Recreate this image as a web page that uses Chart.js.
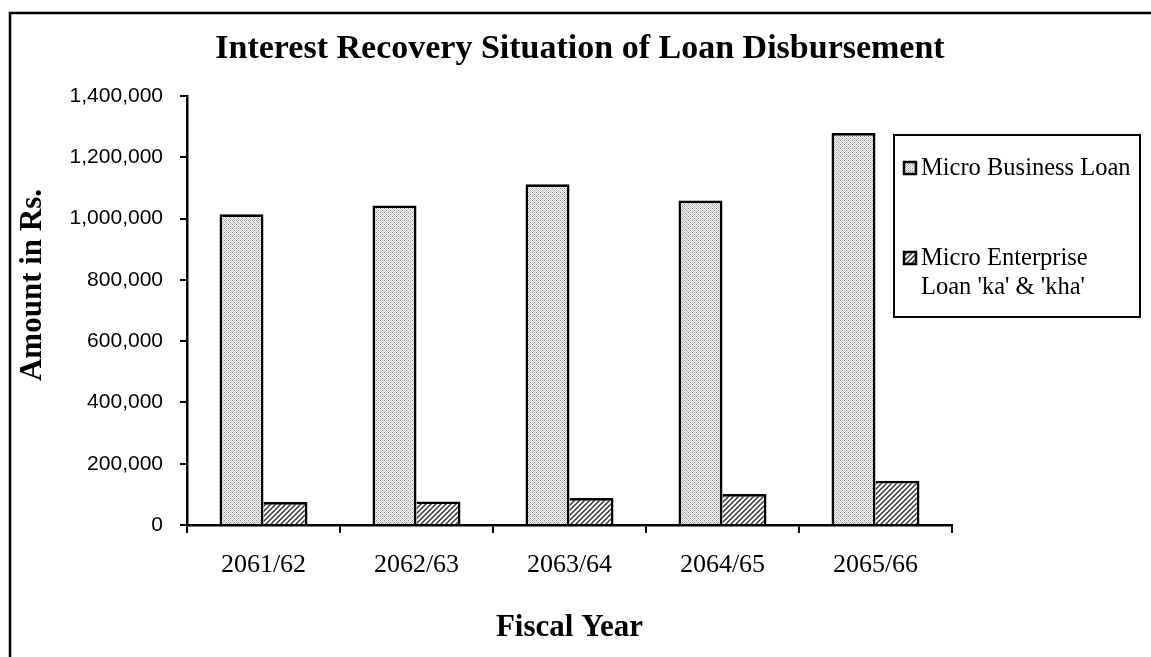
<!DOCTYPE html>
<html>
<head>
<meta charset="utf-8">
<script src="https://cdn.jsdelivr.net/npm/chart.js@4.4.1/dist/chart.umd.min.js"></script>
<style>
  html, body { margin: 0; padding: 0; background: #ffffff; }
  #wrap { width: 1151px; height: 657px; position: relative; }
</style>
</head>
<body>
<div id="wrap"><canvas id="c" width="1151" height="657"></canvas></div>
<script>
// ---- Data ----
const categories = ['2061/62', '2062/63', '2063/64', '2064/65', '2065/66'];
const microBusinessLoan = [1014000, 1043000, 1112000, 1059000, 1279000];
const microEnterpriseLoan = [75000, 77000, 88000, 101000, 144000];
const seriesLabels = ['Micro Business Loan', "Micro Enterprise\nLoan 'ka' & 'kha'"];
const chartTitle = 'Interest Recovery Situation of Loan Disbursement';
const xTitle = 'Fiscal Year';
const yTitle = 'Amount in Rs.';
const yMax = 1400000;
const yStep = 200000;

// ---- Patterns ----
function dottedPattern() {
  const c = document.createElement('canvas');
  c.width = 4; c.height = 4;
  const g = c.getContext('2d');
  g.fillStyle = '#f4f4f4'; g.fillRect(0, 0, 4, 4);
  g.fillStyle = '#c8c8c8';
  for (let y = 0; y < 4; y++) for (let x = 0; x < 4; x++) if ((x + y) % 2 === 0) g.fillRect(x, y, 1, 1);
  g.fillStyle = '#8e8e8e';
  g.fillRect(0, 0, 1, 1); g.fillRect(2, 2, 1, 1);
  return g.createPattern(c, 'repeat');
}
function hatchPattern() {
  const c = document.createElement('canvas');
  c.width = 5; c.height = 5;
  const g = c.getContext('2d');
  g.fillStyle = '#ffffff'; g.fillRect(0, 0, 5, 5);
  g.strokeStyle = '#333333'; g.lineWidth = 1.5;
  g.beginPath();
  g.moveTo(-1, 6); g.lineTo(6, -1);
  g.moveTo(-1, 1); g.lineTo(1, -1);
  g.moveTo(4, 6); g.lineTo(6, 4);
  g.stroke();
  return g.createPattern(c, 'repeat');
}
const fillA = dottedPattern();
const fillB = hatchPattern();

// ---- Plugins ----
const frame = {
  id: 'frame',
  beforeDraw(chart) {
    const ctx = chart.ctx;
    ctx.save();
    ctx.strokeStyle = '#000'; ctx.lineWidth = 2.5;
    ctx.strokeRect(10, 13, chart.width + 20, chart.height + 20);
    ctx.restore();
  }
};

const yTitlePlugin = {
  id: 'yTitlePlugin',
  afterDraw(chart) {
    const ctx = chart.ctx;
    ctx.save();
    ctx.translate(33, 285);
    ctx.rotate(-Math.PI / 2);
    ctx.font = 'bold 31px "Liberation Serif"';
    ctx.fillStyle = '#000';
    ctx.textAlign = 'center';
    ctx.textBaseline = 'middle';
    ctx.fillText(yTitle, 0, 0);
    ctx.restore();
  }
};

const boxLegend = {
  id: 'boxLegend',
  afterDraw(chart) {
    const ctx = chart.ctx;
    const ca = chart.chartArea;
    const bx = ca.right - 58, by = 135, bw = 246, bh = 182;
    ctx.save();
    ctx.fillStyle = '#fff';
    ctx.fillRect(bx, by, bw, bh);
    ctx.strokeStyle = '#000'; ctx.lineWidth = 2;
    ctx.strokeRect(bx, by, bw, bh);
    const rowsY = [168, 258];
    chart.data.datasets.forEach((ds, i) => {
      const cy = rowsY[i];
      ctx.fillStyle = ds.backgroundColor;
      ctx.fillRect(bx + 10, cy - 6, 12, 12);
      ctx.strokeStyle = '#000'; ctx.lineWidth = 2.5;
      ctx.strokeRect(bx + 10, cy - 6, 12, 12);
      ctx.fillStyle = '#000';
      ctx.font = '24.5px "Liberation Serif"';
      ctx.textAlign = 'left';
      ctx.textBaseline = 'middle';
      String(ds.label).split('\n').forEach((line, k) => {
        ctx.fillText(line, bx + 27, cy + 1 + k * 29);
      });
    });
    ctx.restore();
  }
};

// ---- Chart ----
new Chart(document.getElementById('c'), {
  type: 'bar',
  data: {
    labels: categories,
    datasets: [
      {
        label: seriesLabels[0],
        data: microBusinessLoan,
        backgroundColor: fillA,
        borderColor: '#000',
        borderWidth: { top: 2.7, left: 2.7, right: 2.7, bottom: 0 },
        categoryPercentage: 0.575,
        barPercentage: 1.0
      },
      {
        label: seriesLabels[1],
        data: microEnterpriseLoan,
        backgroundColor: fillB,
        borderColor: '#000',
        borderWidth: { top: 2.7, left: 0, right: 2.7, bottom: 0 },
        categoryPercentage: 0.575,
        barPercentage: 1.0
      }
    ]
  },
  options: {
    responsive: false,
    animation: false,
    events: [],
    layout: { padding: { left: 9, right: 0, top: 0, bottom: 0 } },
    plugins: {
      legend: { display: false },
      tooltip: { enabled: false },
      title: {
        display: true,
        text: chartTitle,
        color: '#000',
        font: { family: 'Liberation Serif', size: 34, weight: 'bold', lineHeight: 1.2 },
        padding: { top: 28.6, bottom: 26.6 }
      }
    },
    scales: {
      x: {
        afterFit(scale) { scale.height = 132; },
        grid: { display: true, drawOnChartArea: false, drawTicks: true, tickLength: 8, offset: true, color: '#000', lineWidth: 2 },
        border: { display: true, color: '#000', width: 2.5 },
        ticks: { color: '#000', padding: 17, font: { family: 'Liberation Serif', size: 26 } },
        title: {
          display: true,
          text: xTitle,
          color: '#000',
          font: { family: 'Liberation Serif', size: 31, weight: 'bold', lineHeight: 1.2 },
          padding: { top: 0, bottom: 10 }
        }
      },
      y: {
        min: 0,
        max: yMax,
        afterFit(scale) { scale.width = 178; },
        grid: { display: true, drawOnChartArea: false, drawTicks: true, tickLength: 7, color: '#000', lineWidth: 2 },
        border: { display: true, color: '#000', width: 2.5 },
        ticks: {
          stepSize: yStep,
          color: '#000',
          padding: 17,
          font: { family: 'Liberation Sans', size: 21 },
          callback: (v) => Number(v).toLocaleString('en-US')
        },
        title: { display: false }
      },
      legendSpace: {
        type: 'linear',
        position: 'right',
        display: true,
        afterFit(scale) { scale.width = 199; },
        grid: { display: false, drawTicks: false },
        border: { display: false },
        ticks: { display: false },
        title: { display: false }
      }
    }
  },
  plugins: [frame, yTitlePlugin, boxLegend]
});
</script>
</body>
</html>
